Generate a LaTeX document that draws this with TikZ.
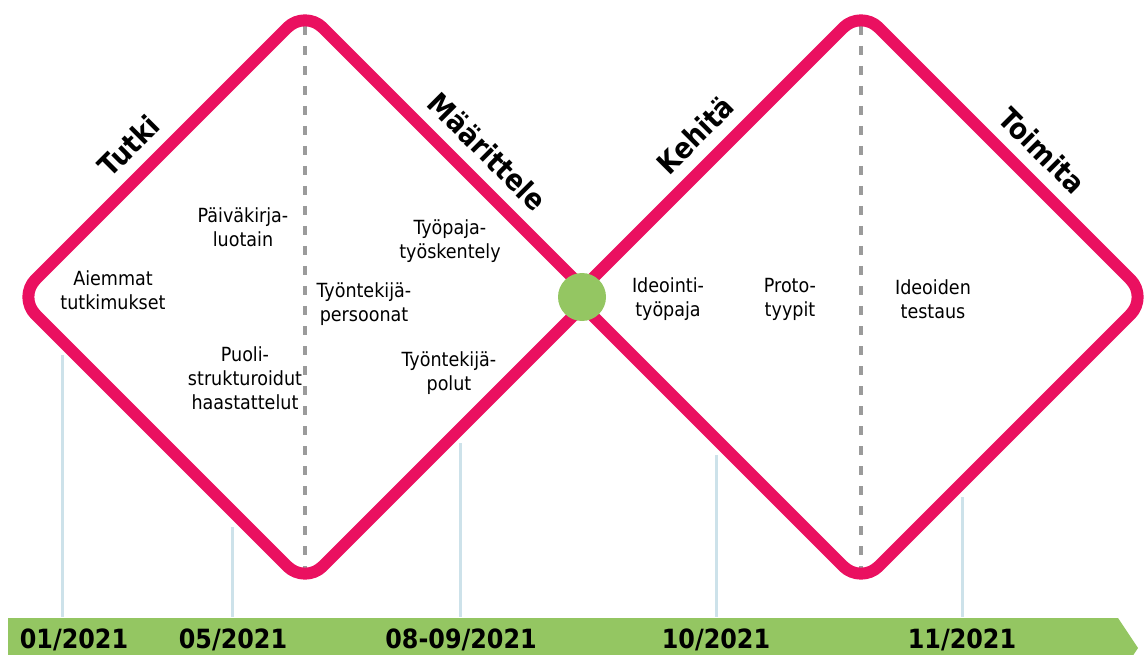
\documentclass[tikz,border=0pt]{standalone}
\usepackage{fontspec}
\setmainfont{DejaVu Sans Condensed}
\definecolor{pinkline}{RGB}{234,16,96}
\definecolor{leafgreen}{RGB}{148,198,98}
\definecolor{dashgray}{RGB}{155,155,155}
\definecolor{tickblue}{RGB}{205,226,234}
\begin{document}
\begin{tikzpicture}[x=1pt,y=-1pt,
  ring/.style={draw=pinkline, line width=12pt, rounded corners=25pt, line join=round},
  phase/.style={font=\bfseries\fontsize{29}{32}\selectfont, inner sep=0pt, anchor=base},
  item/.style={align=center, font=\fontsize{19.5}{24}\selectfont, inner sep=0pt},
  datelabel/.style={font=\bfseries\fontsize{26.5}{30}\selectfont, anchor=base, inner sep=0pt},
  tickline/.style={draw=tickblue, line width=3pt},
  divider/.style={draw=dashgray, line width=4pt, dash pattern=on 9pt off 11pt}]
\useasboundingbox (0,0) rectangle (1144,655);
\clip (0,0) rectangle (1144,655);

% foot points of the markers on the timeline
\coordinate (t1) at (62,617);
\coordinate (t2) at (232,617);
\coordinate (t3) at (460,617);
\coordinate (t4) at (716,617);
\coordinate (t5) at (962,617);

% vertical markers from the phases down to the timeline
\coordinate (m1) at (62,355);
\coordinate (m2) at (232,527);
\coordinate (m3) at (460,443);
\coordinate (m4) at (716,455);
\coordinate (m5) at (962,497);
\draw[tickline] (m1) -- (t1);
\draw[tickline] (m2) -- (t2);
\draw[tickline] (m3) -- (t3);
\draw[tickline] (m4) -- (t4);
\draw[tickline] (m5) -- (t5);

% dashed centre lines of the two diamonds
\coordinate (d1a) at (305,26);
\coordinate (d1b) at (305,570);
\coordinate (d2a) at (861,26);
\coordinate (d2b) at (861,570);
\draw[divider] (d1a) -- (d1b);
\draw[divider] (d2a) -- (d2b);

% the two diamonds
\draw[ring] (161.5,153.5) -- (305,10) -- (592,297) -- (305,584) -- (18,297) -- cycle;
\draw[ring] (717.5,153.5) -- (861,10) -- (1148,297) -- (861,584) -- (574,297) -- cycle;

% junction point
\node[circle, fill=leafgreen, minimum size=48pt, inner sep=0pt] (hub) at (582,297) {};

% timeline arrow
\fill[leafgreen] (8,618) -- (1118,618) -- (1138,648) -- (1118,678) -- (8,678) -- cycle;
\node[datelabel] (date1) at (74,648) {01/2021};
\node[datelabel] (date2) at (233,648) {05/2021};
\node[datelabel] (date3) at (461,648) {08-09/2021};
\node[datelabel] (date4) at (716,648) {10/2021};
\node[datelabel] (date5) at (962,648) {11/2021};

% phase names along the outer edges
\node[phase, rotate=45] (tutki) at (136.2,153.2) {Tutki};
\node[phase, rotate=-45] (maar) at (479.8,159.2) {Määrittele};
\node[phase, rotate=45] (kehita) at (702.8,142.8) {Kehitä};
\node[phase, rotate=-45] (toimita) at (1034.8,158.2) {Toimita};

% methods inside the diamonds
\node[item] (paivakirja) at (243,227) {Päiväkirja-\\luotain};
\node[item] (aiemmat) at (113,290) {Aiemmat\\tutkimukset};
\node[item] (puoli) at (245,378) {Puoli-\\strukturoidut\\haastattelut};
\node[item] (tyopaja) at (450,241) {Työpaja-\\työskentely};
\node[item] (persoonat) at (364,304) {Työntekijä-\\persoonat};
\node[item] (polut) at (449,373) {Työntekijä-\\polut};
\node[item] (ideointi) at (668,299) {Ideointi-\\työpaja};
\node[item] (proto) at (790,299) {Proto-\\tyypit};
\node[item] (testaus) at (933,299) {Ideoiden\\testaus};
\end{tikzpicture}
\end{document}
